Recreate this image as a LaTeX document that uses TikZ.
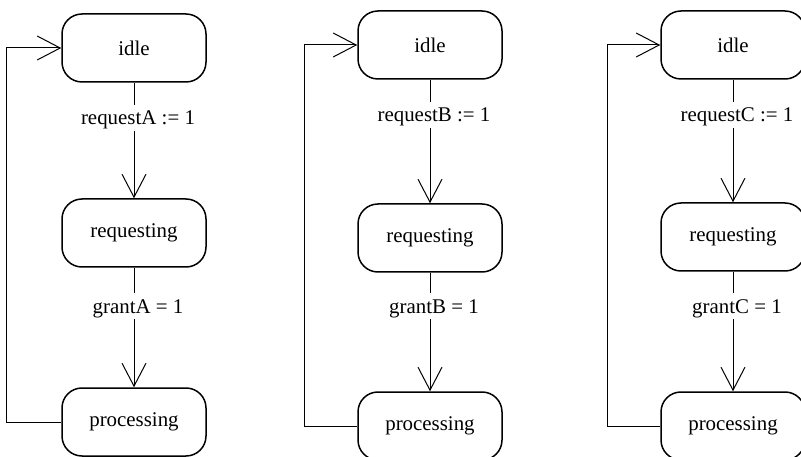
\documentclass[tikz,border=0pt]{standalone}
\usepackage{fontspec}
\setmainfont{Liberation Serif}
\usetikzlibrary{arrows.meta}
\tikzset{
  state/.style={draw, line width=1.5pt, rounded corners=20pt, minimum width=144pt, minimum height=68pt, inner sep=0pt, font=\fontsize{20.9}{24}\selectfont},
  lab/.style={inner sep=1pt, text height=19pt, text depth=5pt, anchor=base, font=\fontsize{20.9}{24}\selectfont},
  conn/.style={line width=1pt},
  arr/.style={line width=1pt, -{Straight Barb[length=23pt,width=24pt,line width=1pt]}}
}
\begin{document}
\begin{tikzpicture}[x=1pt,y=-1pt]
\useasboundingbox (0,0) rectangle (801,457);
% column A
\node[state] (iA) at (134,48) {idle};
\node[state] (rA) at (134,233) {requesting};
\node[state] (pA) at (134,422) {processing};
\node[lab] (qA) at (138,125) {requestA := 1};
\node[lab] (gA) at (138,313) {grantA = 1};
\coordinate (lA) at (6,0);
\draw[conn] (iA.south) -- (iA.south |- qA.north);
\draw[arr] (iA.south |- qA.south) -- (rA.north);
\draw[conn] (rA.south) -- (rA.south |- gA.north);
\draw[arr] (rA.south |- gA.south) -- (pA.north);
\draw[arr] (pA.west) -- (pA.west -| lA) |- (iA.west);
% column B
\node[state] (iB) at (430,45) {idle};
\node[state] (rB) at (430,238) {requesting};
\node[state] (pB) at (430,426) {processing};
\node[lab] (qB) at (434,122) {requestB := 1};
\node[lab] (gB) at (434,313) {grantB = 1};
\coordinate (lB) at (304,0);
\draw[conn] (iB.south) -- (iB.south |- qB.north);
\draw[arr] (iB.south |- qB.south) -- (rB.north);
\draw[conn] (rB.south) -- (rB.south |- gB.north);
\draw[arr] (rB.south |- gB.south) -- (pB.north);
\draw[arr] (pB.west) -- (pB.west -| lB) |- (iB.west);
% column C
\node[state] (iC) at (733,45) {idle};
\node[state] (rC) at (733,237) {requesting};
\node[state] (pC) at (733,426) {processing};
\node[lab] (qC) at (737,122) {requestC := 1};
\node[lab] (gC) at (737,313) {grantC = 1};
\coordinate (lC) at (607,0);
\draw[conn] (iC.south) -- (iC.south |- qC.north);
\draw[arr] (iC.south |- qC.south) -- (rC.north);
\draw[conn] (rC.south) -- (rC.south |- gC.north);
\draw[arr] (rC.south |- gC.south) -- (pC.north);
\draw[arr] (pC.west) -- (pC.west -| lC) |- (iC.west);
\end{tikzpicture}
\end{document}
